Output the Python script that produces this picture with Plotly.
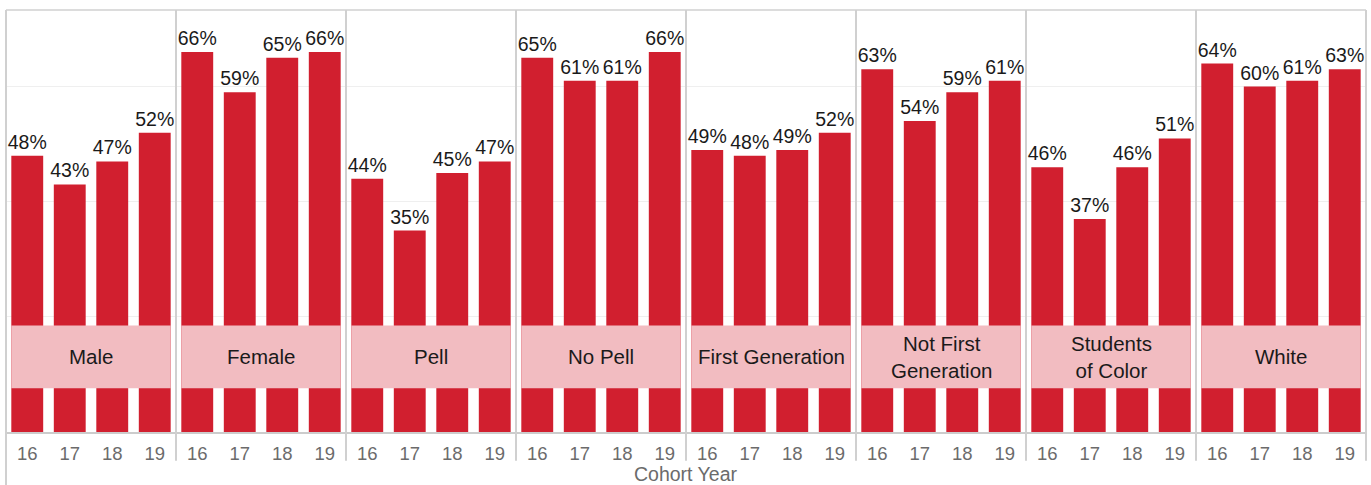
import plotly.graph_objects as go
from plotly.subplots import make_subplots

years = ["16", "17", "18", "19"]
groups = ["Male", "Female", "Pell", "No Pell", "First Generation",
          "Not First Generation", "Students of Color", "White"]
group_labels = ["Male", "Female", "Pell", "No Pell", "First Generation",
                "Not First<br>Generation", "Students<br>of Color", "White"]
male = [48, 43, 47, 52]
female = [66, 59, 65, 66]
pell = [44, 35, 45, 47]
no_pell = [65, 61, 61, 66]
first_gen = [49, 48, 49, 52]
not_first_gen = [63, 54, 59, 61]
students_of_color = [46, 37, 46, 51]
white = [64, 60, 61, 63]
series = [male, female, pell, no_pell, first_gen, not_first_gen,
          students_of_color, white]

BAR = "#D11F2F"
BAND = "#F2BCC1"
FONT = "Liberation Sans, Arial, sans-serif"
BAND_LO, BAND_HI = 7.6, 18.5
YMAX = 73.3

n = len(groups)
fig = make_subplots(rows=1, cols=n, shared_yaxes=True, horizontal_spacing=0)

for i, vals in enumerate(series):
    c = i + 1
    fig.add_trace(go.Bar(
        x=years, y=vals, marker_color=BAR, marker_line_width=0,
        text=[f"{v}%" for v in vals], textposition="outside",
        constraintext="none", cliponaxis=False,
        textfont=dict(family=FONT, size=19.5, color="#1a1a1a"),
        showlegend=False, hoverinfo="skip",
    ), row=1, col=c)
    xname = "x" if c == 1 else f"x{c}"
    yname = "y" if c == 1 else f"y{c}"
    # label band
    fig.add_shape(type="rect", xref=xname, yref=yname,
                  x0=-0.375, x1=3.375, y0=BAND_LO, y1=BAND_HI,
                  fillcolor=BAND, line_width=0, layer="above")
    fig.add_annotation(xref=f"{xname} domain", yref=yname, x=0.5,
                       y=(BAND_LO + BAND_HI) / 2, text=group_labels[i],
                       showarrow=False,
                       font=dict(family=FONT, size=20.5, color="#1a1a1a"))
    fig.update_xaxes(row=1, col=c, type="category", categoryorder="array",
                     categoryarray=years, range=[-0.5, 3.5],
                     showline=True, linecolor="#cccccc", linewidth=1.5,
                     showgrid=False, ticks="outside", ticklen=4,
                     tickcolor="rgba(0,0,0,0)",
                     tickfont=dict(family=FONT, size=18.5, color="#6b6b6b"))
    fig.update_yaxes(row=1, col=c, range=[0, YMAX], dtick=20,
                     showticklabels=False, showgrid=True,
                     gridcolor="#efefef", gridwidth=1, zeroline=False)

# panel borders
for k in range(n + 1):
    y0 = -0.13 if k == 0 else -0.068
    fig.add_shape(type="line", xref="paper", yref="paper",
                  x0=k / n, x1=k / n, y0=y0, y1=1,
                  line=dict(color="#d0d0d0", width=2), layer="above")
fig.add_shape(type="line", xref="paper", yref="paper", x0=0, x1=1,
              y0=1, y1=1, line=dict(color="#d0d0d0", width=1.5),
              layer="above")

fig.add_annotation(xref="paper", yref="paper", x=0.5, y=-0.1,
                   text="Cohort Year", showarrow=False, yanchor="middle",
                   font=dict(family=FONT, size=19.5, color="#6b6b6b"))

fig.update_layout(
    width=1371, height=485,
    margin=dict(l=6, r=5, t=10, b=53),
    paper_bgcolor="white", plot_bgcolor="white",
    bargap=0.25,
    font=dict(family=FONT),
)

fig.write_html("out.html",
               config={"displayModeBar": False},
               post_script="document.body.style.margin='0';"
                           "document.body.style.overflow='hidden';")
